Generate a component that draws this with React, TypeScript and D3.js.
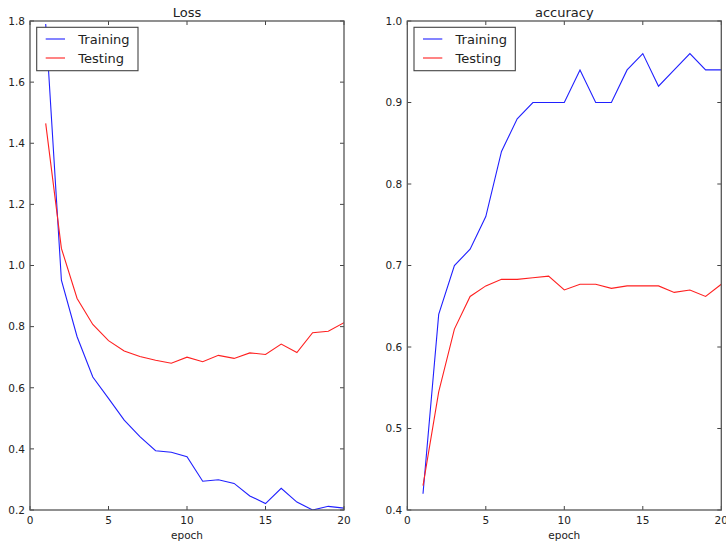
import React from "react";
import * as d3 from "d3";

const epochs = d3.range(1, 21);
const lossTrain = [1.79, 0.952, 0.767, 0.635, 0.565, 0.494, 0.44, 0.394, 0.389, 0.374, 0.294, 0.299, 0.287, 0.246, 0.221, 0.271, 0.226, 0.2, 0.212, 0.206];
const lossTest = [1.465, 1.056, 0.892, 0.807, 0.754, 0.72, 0.702, 0.69, 0.68, 0.70, 0.685, 0.706, 0.696, 0.714, 0.709, 0.743, 0.715, 0.78, 0.785, 0.813];
const accTrain = [0.42, 0.64, 0.70, 0.72, 0.76, 0.84, 0.88, 0.90, 0.90, 0.90, 0.94, 0.90, 0.90, 0.94, 0.96, 0.92, 0.94, 0.96, 0.94, 0.94];
const accTest = [0.43, 0.545, 0.622, 0.662, 0.675, 0.683, 0.683, 0.685, 0.687, 0.670, 0.677, 0.677, 0.672, 0.675, 0.675, 0.675, 0.667, 0.670, 0.662, 0.677];
const xTicks = [0, 5, 10, 15, 20];
const lossTicks = [0.2, 0.4, 0.6, 0.8, 1.0, 1.2, 1.4, 1.6, 1.8];
const accTicks = [0.4, 0.5, 0.6, 0.7, 0.8, 0.9, 1.0];
const seriesNames = ["Training", "Testing"];
const seriesColors = ["#2020ff", "#ff2020"];

const FONT = "DejaVu Sans, sans-serif";
const TOP = 21;
const BOTTOM = 510;

function Panel({ x0, x1, title, yDomain, yTicks, train, test }: any) {
  const x = d3.scaleLinear().domain([0, 20]).range([x0, x1]);
  const y = d3.scaleLinear().domain(yDomain).range([BOTTOM, TOP]);
  const line = d3
    .line<number>()
    .x((_, i) => x(epochs[i]))
    .y((d) => y(d));
  const tl = 4;
  const fmt = d3.format(".1f");
  const lx = x0 + 6.7;
  const ly = 27.3;
  return (
    <g>
      <defs>
        <clipPath id={"clip" + Math.round(x0)}>
          <rect x={x0} y={TOP} width={x1 - x0} height={BOTTOM - TOP} />
        </clipPath>
      </defs>
      <g clipPath={`url(#clip${Math.round(x0)})`}>
        <path d={line(train) || ""} fill="none" stroke={seriesColors[0]} strokeWidth={1.1} />
        <path d={line(test) || ""} fill="none" stroke={seriesColors[1]} strokeWidth={1.1} />
      </g>
      {xTicks.map((t) => (
        <g key={"x" + t}>
          <line x1={x(t)} x2={x(t)} y1={BOTTOM} y2={BOTTOM - tl} stroke="#444" strokeWidth={1} />
          <line x1={x(t)} x2={x(t)} y1={TOP} y2={TOP + tl} stroke="#444" strokeWidth={1} />
          <text x={x(t)} y={523.5} textAnchor="middle" fontSize={10.5} fontFamily={FONT} fill="#222">
            {t}
          </text>
        </g>
      ))}
      {yTicks.map((t: number) => (
        <g key={"y" + t}>
          <line x1={x0} x2={x0 + tl} y1={y(t)} y2={y(t)} stroke="#444" strokeWidth={1} />
          <line x1={x1} x2={x1 - tl} y1={y(t)} y2={y(t)} stroke="#444" strokeWidth={1} />
          <text x={x0 - 5} y={y(t) + 3.8} textAnchor="end" fontSize={10.5} fontFamily={FONT} fill="#222">
            {fmt(t)}
          </text>
        </g>
      ))}
      <rect x={x0} y={TOP} width={x1 - x0} height={BOTTOM - TOP} fill="none" stroke="#555" strokeWidth={1.3} />
      <text x={(x0 + x1) / 2} y={16.5} textAnchor="middle" fontSize={13} fontFamily={FONT} fill="#222">
        {title}
      </text>
      <text x={(x0 + x1) / 2} y={539} textAnchor="middle" fontSize={10.5} fontFamily={FONT} fill="#222">
        epoch
      </text>
      <rect x={lx} y={ly} width={101.3} height={43.4} fill="#fff" stroke="#444" strokeWidth={1.1} />
      {seriesNames.map((n, i) => (
        <g key={n}>
          <line x1={lx + 9} x2={lx + 28.3} y1={39 + i * 19} y2={39 + i * 19} stroke={seriesColors[i]} strokeWidth={1.1} />
          <text x={lx + 41.6} y={39 + i * 19 + 4.6} fontSize={13} fontFamily={FONT} fill="#222">
            {n}
          </text>
        </g>
      ))}
    </g>
  );
}

export default function App() {
  return (
    <svg width={726} height={545} style={{ position: "absolute", left: 0, top: 0, background: "#fff" }}>
      <rect width={726} height={545} fill="#fff" />
      <Panel x0={30} x1={344} title="Loss" yDomain={[0.2, 1.8]} yTicks={lossTicks} train={lossTrain} test={lossTest} />
      <Panel x0={407.3} x1={721.3} title="accuracy" yDomain={[0.4, 1.0]} yTicks={accTicks} train={accTrain} test={accTest} />
    </svg>
  );
}
